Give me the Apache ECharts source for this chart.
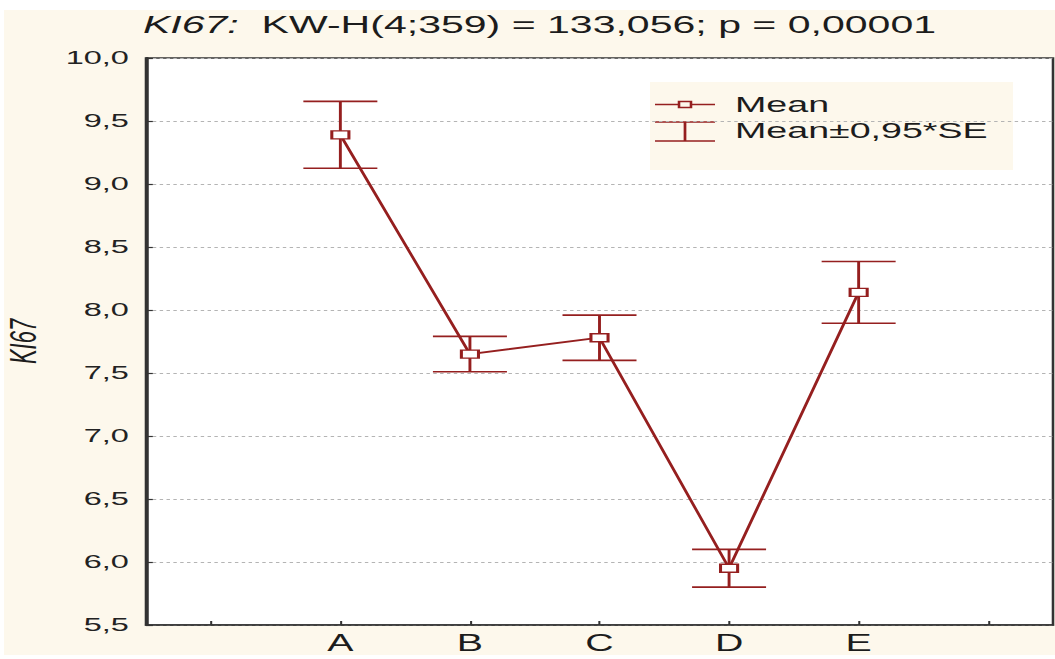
<!DOCTYPE html>
<html>
<head>
<meta charset="utf-8">
<title>KI67</title>
<script src="https://cdn.jsdelivr.net/npm/echarts@6/dist/echarts.min.js"></script>
<style>
  html, body { margin: 0; padding: 0; background: #ffffff; overflow: hidden; }
  #paper { position: absolute; left: 4px; top: 10px; width: 1051px; height: 645px; background: #fdf8ec; }
  /* the chart is laid out narrow and stretched sideways, like the wide Statistica export */
  #chart { position: absolute; left: 0; top: 0; width: 617px; height: 659px;
           transform: scaleX(1.71); transform-origin: 0 0; }
</style>
</head>
<body>
<div id="paper"></div>
<div id="chart"></div>
<script>
// group labels, means and the half-width of the 0.95*SE interval
const groups = ['A', 'B', 'C', 'D', 'E'];
const means  = [9.39, 7.65, 7.78, 5.95, 8.14];
const errs   = [0.265, 0.14, 0.18, 0.15, 0.245];
// axis slots: one empty slot on each side of the groups
const axisSlots = ['', 'A', 'B', 'C', 'D', 'E', ' '];
const yTicks = { min: 5.5, max: 10, step: 0.5 };

const RED = '#951f1f';
const INK = '#1c1c1c';
const FONT = '"Liberation Sans", Arial, sans-serif';
const SX = 1.71; // horizontal stretch applied to the container

const chart = echarts.init(document.getElementById('chart'), null, { renderer: 'svg' });

const meanData = groups.map((g, i) => [g, means[i]]);
const barData = groups.map((g, i) => [g, means[i] + errs[i], means[i] - errs[i]]);

const capHalf = 37 / SX;

chart.setOption({
  animation: false,
  backgroundColor: 'transparent',
  grid: {
    left: 146 / SX, right: 617 - 1053 / SX, top: 58, bottom: 34,
    outerBoundsMode: 'none', containLabel: false,
    show: true, backgroundColor: '#ffffff', borderColor: '#333', borderWidth: 1.5
  },
  xAxis: {
    type: 'category',
    data: axisSlots,
    boundaryGap: true,
    axisLine: { lineStyle: { color: '#333', width: 1.5 } },
    axisTick: { show: true, inside: true, length: 4, alignWithLabel: true, interval: 0,
                lineStyle: { color: '#333', width: 1.2 } },
    axisLabel: { interval: 0, color: INK, fontFamily: FONT, fontSize: 23, margin: 7 },
    splitLine: { show: false }
  },
  yAxis: {
    type: 'value',
    min: yTicks.min, max: yTicks.max, interval: yTicks.step,
    name: 'KI67',
    nameLocation: 'middle',
    nameRotate: 90,
    nameGap: 61,
    nameTextStyle: { color: INK, fontFamily: FONT, fontSize: 22, fontStyle: 'italic' },
    axisLine: { show: true, lineStyle: { color: '#333', width: 2 } },
    axisTick: { show: true, inside: true, length: 4, lineStyle: { color: '#333', width: 1.2 } },
    axisLabel: {
      color: '#222', fontFamily: FONT, fontSize: 19, margin: 10,
      formatter: v => v.toFixed(1).replace('.', ',')
    },
    splitLine: { show: true, lineStyle: { color: '#b4b4b4', type: [2, 2], width: 1 } }
  },
  series: [
    {
      name: 'Mean±0,95*SE',
      type: 'custom',
      z: 2,
      encode: { x: 0, y: [1, 2] },
      data: barData,
      renderItem(params, api) {
        const hi = api.coord([api.value(0), api.value(1)]);
        const lo = api.coord([api.value(0), api.value(2)]);
        const style = { stroke: RED, lineWidth: 1.7 };
        return {
          type: 'group',
          children: [
            { type: 'line', shape: { x1: hi[0], y1: hi[1], x2: lo[0], y2: lo[1] }, style },
            { type: 'line', shape: { x1: hi[0] - capHalf, y1: hi[1], x2: hi[0] + capHalf, y2: hi[1] }, style },
            { type: 'line', shape: { x1: lo[0] - capHalf, y1: lo[1], x2: lo[0] + capHalf, y2: lo[1] }, style }
          ]
        };
      }
    },
    {
      name: 'Mean',
      type: 'line',
      z: 3,
      data: meanData,
      symbol: 'rect',
      symbolSize: [10, 8],
      showSymbol: true,
      lineStyle: { color: RED, width: 1.8 },
      itemStyle: { color: '#ffffff', borderColor: RED, borderWidth: 1.6 }
    }
  ],
  graphic: [
    {
      type: 'text', x: 315.5, y: 25, z: 10,
      style: {
        text: '{i|KI67:}  KW-H(4;359) = 133,056; p = 0,00001',
        align: 'center', verticalAlign: 'middle',
        fill: INK, fontFamily: FONT, fontSize: 24,
        rich: { i: { fontStyle: 'italic', fontFamily: FONT, fontSize: 24, fill: INK } }
      }
    },
    // legend box
    {
      type: 'group', z: 10,
      children: [
        { type: 'rect', shape: { x: 650 / SX, y: 82, width: (1013 - 650) / SX, height: 88 },
          style: { fill: '#fdf8ec' } },
        { type: 'line', shape: { x1: 655 / SX, y1: 104.5, x2: 715 / SX, y2: 104.5 },
          style: { stroke: RED, lineWidth: 1.6 } },
        { type: 'rect', shape: { x: 685 / SX - 3.5, y: 101.5, width: 7, height: 6 },
          style: { fill: '#fdf8ec', stroke: RED, lineWidth: 1.5 } },
        { type: 'line', shape: { x1: 655 / SX, y1: 122, x2: 715 / SX, y2: 122 },
          style: { stroke: RED, lineWidth: 1.6 } },
        { type: 'line', shape: { x1: 655 / SX, y1: 141, x2: 715 / SX, y2: 141 },
          style: { stroke: RED, lineWidth: 1.6 } },
        { type: 'line', shape: { x1: 685 / SX, y1: 122, x2: 685 / SX, y2: 141 },
          style: { stroke: RED, lineWidth: 1.6 } },
        { type: 'text', x: 735 / SX, y: 105,
          style: { text: 'Mean', fill: INK, fontFamily: FONT, fontSize: 22, verticalAlign: 'middle' } },
        { type: 'text', x: 735 / SX, y: 131,
          style: { text: 'Mean±0,95*SE', fill: INK, fontFamily: FONT, fontSize: 22, verticalAlign: 'middle' } }
      ]
    }
  ]
});
</script>
</body>
</html>
